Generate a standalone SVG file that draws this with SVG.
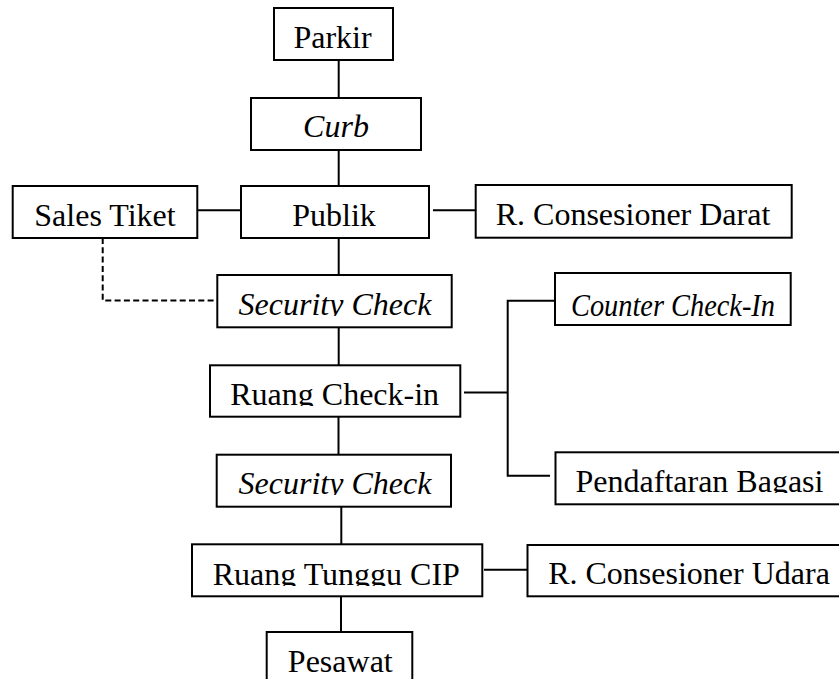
<svg xmlns="http://www.w3.org/2000/svg" width="839" height="679" viewBox="0 0 839 679">
<style>
rect.box{fill:#fff;stroke:#000;stroke-width:2}
text{font-family:"Liberation Serif","Times New Roman",serif;font-size:32px;fill:#000;text-anchor:middle}
text.it{font-style:italic}
.conn line,.conn polyline{stroke:#000;stroke-width:2;fill:none}
.conn .dash{stroke-dasharray:6 3.3}
</style>
<defs>
<clipPath id="c1"><rect x="0" y="0" width="839" height="316"/></clipPath>
<clipPath id="c2"><rect x="0" y="0" width="839" height="406"/></clipPath>
<clipPath id="c3"><rect x="0" y="0" width="839" height="493"/></clipPath>
<clipPath id="c4"><rect x="0" y="0" width="839" height="495"/></clipPath>
<clipPath id="c5"><rect x="0" y="0" width="839" height="586"/></clipPath>
</defs>
<g class="conn">
<line x1="338.7" y1="60" x2="338.7" y2="98"/>
<line x1="338.7" y1="150" x2="338.7" y2="186"/>
<line x1="338.7" y1="238" x2="338.7" y2="275"/>
<line x1="338.7" y1="327" x2="338.7" y2="365"/>
<line x1="338.5" y1="417" x2="338.5" y2="455"/>
<line x1="341.3" y1="507" x2="341.3" y2="544"/>
<line x1="341" y1="596" x2="341" y2="632"/>
<line x1="197" y1="210.3" x2="241" y2="210.3"/>
<line x1="433" y1="210.3" x2="476" y2="210.3"/>
<polyline class="dash" points="102.7,238 102.7,300.5 225,300.5"/>
<line x1="464" y1="392.5" x2="507.7" y2="392.5"/>
<polyline points="555,300.7 507.7,300.7 507.7,475.7 550,475.7"/>
<line x1="484" y1="569.7" x2="527.5" y2="569.7"/>
</g>
<g id="parkir"><rect class="box" x="274" y="8" width="119" height="52"/><text x="332.5" y="48.3">Parkir</text></g>
<g id="curb"><rect class="box" x="251" y="98" width="170" height="52"/><text class="it" x="336" y="137.3">Curb</text></g>
<g id="publik"><rect class="box" x="241" y="186" width="188" height="52"/><text x="334" y="225.7">Publik</text></g>
<g id="sales-tiket"><rect class="box" x="12.7" y="186" width="184.6" height="52"/><text x="105" y="225.7">Sales Tiket</text></g>
<g id="r-consesioner-darat"><rect class="box" x="475.7" y="185" width="316" height="52.7"/><text x="633" y="225">R. Consesioner Darat</text></g>
<g id="security-check-1"><rect class="box" x="217.3" y="275" width="234.4" height="52.3"/><text class="it" x="335" y="315" clip-path="url(#c1)">Security Check</text></g>
<g id="counter-check-in"><rect class="box" x="555" y="273" width="235.7" height="52"/><text class="it" x="673" y="315.7" font-size="31" textLength="204" lengthAdjust="spacingAndGlyphs">Counter Check-In</text></g>
<g id="ruang-check-in"><rect class="box" x="210" y="365.3" width="250.3" height="51.4"/><text x="334.7" y="405" clip-path="url(#c2)">Ruang Check-in</text></g>
<g id="pendaftaran-bagasi"><rect class="box" x="555.5" y="452.3" width="300" height="52"/><text x="699.5" y="492.3" clip-path="url(#c3)">Pendaftaran Bagasi</text></g>
<g id="security-check-2"><rect class="box" x="216.7" y="454.7" width="234.3" height="52"/><text class="it" x="335" y="494.3" clip-path="url(#c4)">Security Check</text></g>
<g id="ruang-tunggu-cip"><rect class="box" x="192" y="544.3" width="290.3" height="52"/><text x="336.3" y="585" clip-path="url(#c5)">Ruang Tunggu CIP</text></g>
<g id="r-consesioner-udara"><rect class="box" x="527.5" y="545" width="320" height="51.3"/><text x="689" y="583.7">R. Consesioner Udara</text></g>
<g id="pesawat"><rect class="box" x="266.7" y="632" width="145.6" height="60"/><text x="340.3" y="671.7">Pesawat</text></g>
</svg>
